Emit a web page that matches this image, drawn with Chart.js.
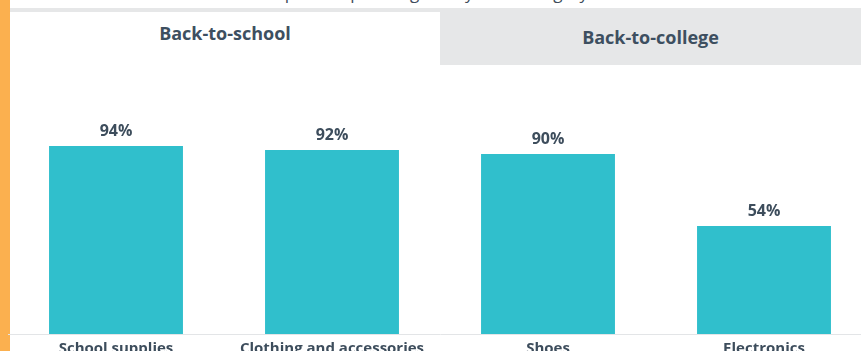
<!DOCTYPE html>
<html>
<head>
<meta charset="utf-8">
<script src="https://cdn.jsdelivr.net/npm/chart.js@4/dist/chart.umd.min.js"></script>
<style>
  html, body { margin: 0; padding: 0; }
  body { width: 861px; height: 351px; overflow: hidden; position: relative; background: #fff; font-family: "Open Sans", "Liberation Sans", sans-serif; }
  #strip { position: absolute; left: 0; top: 0; width: 10px; height: 351px; background: #fbb04f; }
  #subtitle { position: absolute; left: 10px; top: -19px; width: 851px; text-align: center; font-size: 17px; color: #3d4c5b; white-space: nowrap; }
  #rule { position: absolute; left: 10px; top: 8px; width: 851px; height: 4px; background: #e6e7e8; }
  .tab { position: absolute; font-weight: 700; font-size: 18px; color: #3d4f60; text-align: center; }
  #tabSchool { left: 10px; top: 12px; width: 430px; height: 54px; line-height: 42px; background: #fff; }
  #tabCollege { left: 440px; top: 8px; width: 421px; height: 57px; line-height: 58px; background: #e6e7e8; }
  #wrap { position: absolute; left: 0; top: 0; width: 872px; height: 364px; }
</style>
</head>
<body>
<div id="strip"></div>
<div id="subtitle">Share of parents planning to buy each category of items</div>
<div id="rule"></div>
<div class="tab" id="tabSchool">Back-to-school</div>
<div class="tab" id="tabCollege">Back-to-college</div>
<div id="wrap"><canvas id="chart"></canvas></div>
<script>
const categories = ['School supplies', 'Clothing and accessories', 'Shoes', 'Electronics'];
const shareValues = [94, 92, 90, 54];

const barColor = '#30bfcc';
const textColor = '#3d4d5c';

// percent labels above the bars
const valueLabels = {
  id: 'valueLabels',
  afterDatasetsDraw(chart) {
    const ctx = chart.ctx;
    const meta = chart.getDatasetMeta(0);
    ctx.save();
    ctx.font = 'bold 16px "Open Sans", sans-serif';
    ctx.fillStyle = textColor;
    ctx.textAlign = 'center';
    ctx.textBaseline = 'bottom';
    meta.data.forEach((bar, i) => {
      ctx.fillText(shareValues[i] + '%', bar.x, bar.y - 7);
    });
    ctx.restore();
  }
};

new Chart(document.getElementById('chart'), {
  type: 'bar',
  data: {
    labels: categories,
    datasets: [{
      data: shareValues,
      backgroundColor: barColor,
      categoryPercentage: 1,
      barPercentage: 0.62
    }]
  },
  options: {
    responsive: true,
    maintainAspectRatio: false,
    animation: false,
    layout: { padding: { left: 8, right: 0, top: 134, bottom: 0 } },
    plugins: {
      legend: { display: false },
      tooltip: { enabled: false }
    },
    scales: {
      x: {
        grid: { display: false, drawTicks: false },
        border: { display: true, color: '#e3e5e7', width: 1 },
        ticks: {
          color: textColor,
          padding: 6,
          maxRotation: 0,
          font: { family: '"Open Sans", sans-serif', size: 15, weight: 'bold' }
        }
      },
      y: {
        display: false,
        min: 0,
        max: 100
      }
    }
  },
  plugins: [valueLabels]
});
</script>
</body>
</html>
